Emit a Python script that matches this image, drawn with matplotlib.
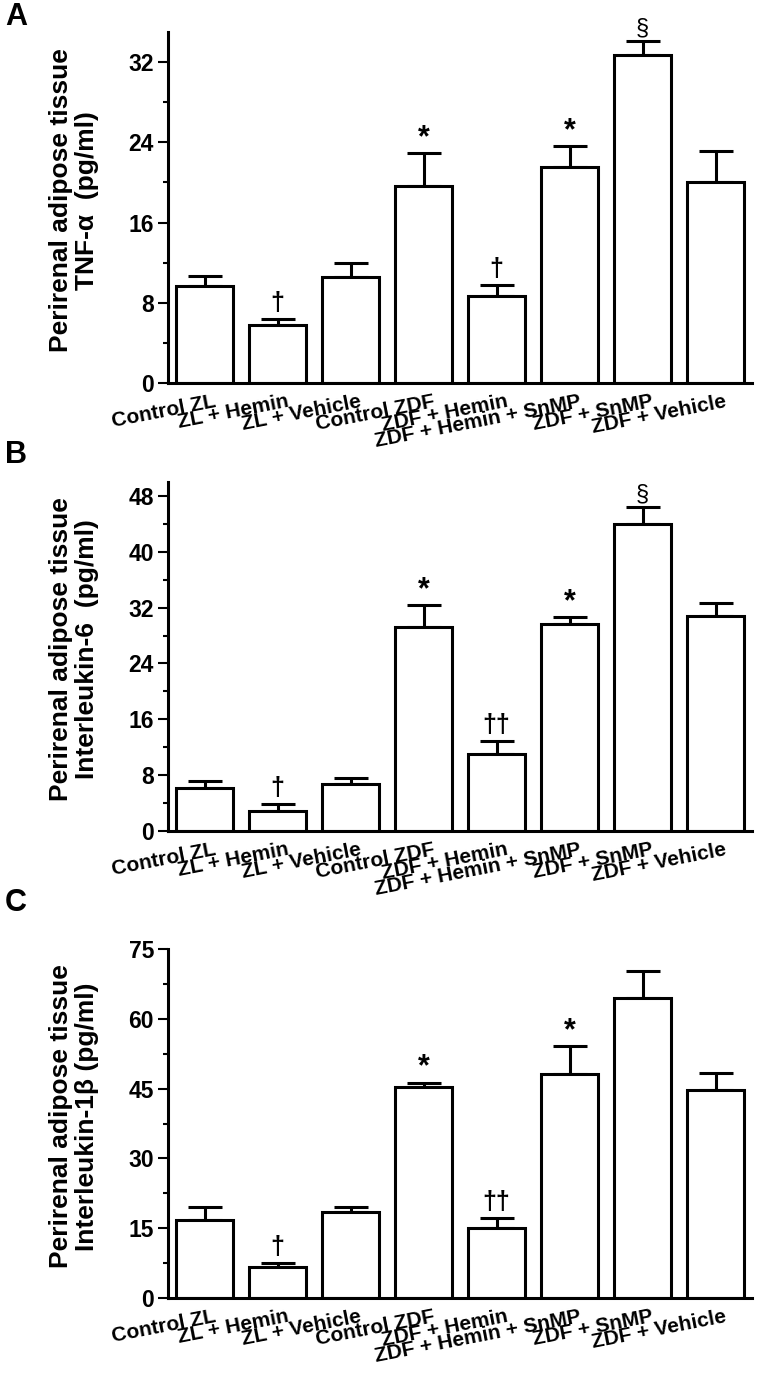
import matplotlib
matplotlib.use("Agg")
import matplotlib.pyplot as plt
from matplotlib.transforms import ScaledTranslation
import numpy as np

plt.rcParams['font.family'] = ['Liberation Sans', 'DejaVu Sans']

groups = ["Control ZL", "ZL + Hemin", "ZL + Vehicle", "Control ZDF",
          "ZDF + Hemin", "ZDF + Hemin + SnMP", "ZDF + SnMP", "ZDF + Vehicle"]

tnf = [9.7, 5.8, 10.6, 19.6, 8.7, 21.5, 32.7, 20.0]
tnf_err = [1.0, 0.6, 1.4, 3.3, 1.1, 2.1, 1.4, 3.1]
tnf_marks = ["", "†", "", "*", "†", "*", "§", ""]

il6 = [6.1, 2.9, 6.7, 29.2, 11.0, 29.6, 44.0, 30.8]
il6_err = [1.1, 1.0, 0.9, 3.2, 1.85, 1.0, 2.4, 1.8]
il6_marks = ["", "†", "", "*", "††", "*", "§", ""]

il1b = [16.7, 6.6, 18.5, 45.3, 15.0, 48.2, 64.5, 44.6]
il1b_err = [2.8, 0.9, 1.0, 1.0, 2.2, 6.0, 5.8, 3.8]
il1b_marks = ["", "†", "", "*", "††", "*", "", ""]

ylabels = ["Perirenal adipose tissue\nTNF-α  (pg/ml)",
           "Perirenal adipose tissue\nInterleukin-6  (pg/ml)",
           "Perirenal adipose tissue\nInterleukin-1β (pg/ml)"]
panel_letters = ["A", "B", "C"]
ylims = [35, 50, 75]
major_steps = [8, 8, 15]

W, H = 757, 1379
fig = plt.figure(figsize=(W / 100, H / 100), dpi=100)

left = 168 / W
width = (752 - 168) / W
tops_px = [32, 482, 949]
bottoms_px = [383, 831, 1298]
letter_y_px = [17, 455, 903]

mark_style = {"*": (22, "bold", 0), "†": (18, "bold", 3), "††": (18, "bold", 3), "§": (17, "normal", 1)}

datasets = [(tnf, tnf_err, tnf_marks), (il6, il6_err, il6_marks), (il1b, il1b_err, il1b_marks)]

for k, (vals, errs, marks) in enumerate(datasets):
    b = 1 - bottoms_px[k] / H
    h = (bottoms_px[k] - tops_px[k]) / H
    ax = fig.add_axes([left, b, width, h])
    x = np.arange(len(groups))
    ax.bar(x, vals, width=0.78, color="white", edgecolor="black", linewidth=2.2, zorder=2)
    ax.errorbar(x, vals, yerr=[np.zeros(len(vals)), errs], fmt="none", ecolor="black",
                elinewidth=2.2, capsize=12.5, capthick=2.2, zorder=1)
    for xi, v, e, m in zip(x, vals, errs, marks):
        if m:
            fs, weight, dy = mark_style[m]
            ax.annotate(m, (xi, v + e), xytext=(0, dy), textcoords="offset points",
                        ha="center", va="bottom", fontsize=fs, fontweight=weight)
    ax.set_xlim(-0.5, 7.5)
    ax.set_ylim(0, ylims[k])
    step = major_steps[k]
    ax.set_yticks(np.arange(0, ylims[k] + 0.01, step))
    ax.set_yticks(np.arange(step / 2, ylims[k] + 0.01, step), minor=True)
    ax.spines["top"].set_visible(False)
    ax.spines["right"].set_visible(False)
    ax.spines["left"].set_linewidth(2.2)
    ax.spines["bottom"].set_linewidth(2.2)
    ax.tick_params(axis="y", which="major", length=7, width=1.5, pad=3, labelsize=16.5)
    ax.tick_params(axis="y", which="minor", length=3.5, width=1.5)
    for lab in ax.get_yticklabels():
        lab.set_fontweight("bold")
    ax.set_xticks(x)
    ax.set_xticklabels(groups, rotation=11, ha="right", va="top", rotation_mode="anchor",
                       fontsize=15, fontweight="bold")
    ax.tick_params(axis="x", length=0, pad=6.5)
    offset = ScaledTranslation(0.09, 0, fig.dpi_scale_trans)
    for lab in ax.get_xticklabels():
        lab.set_transform(lab.get_transform() + offset)
    ax.set_ylabel(ylabels[k], fontsize=19, fontweight="bold", linespacing=1.1)
    ax.yaxis.set_label_coords(-0.118, 0.52)
    fig.text(5 / W, 1 - letter_y_px[k] / H, panel_letters[k], fontsize=22, fontweight="bold",
             ha="left", va="center")

fig.savefig("out.png", dpi=100, facecolor="white")
